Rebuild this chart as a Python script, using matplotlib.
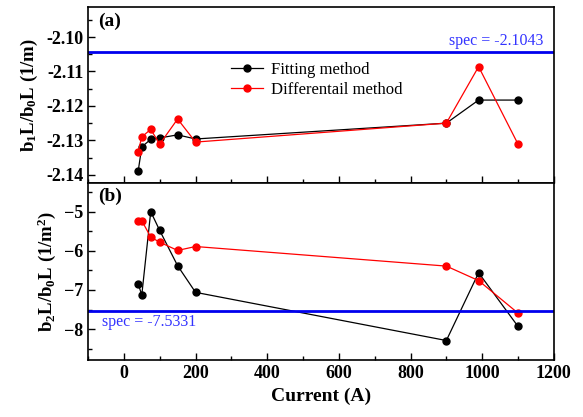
import numpy as np
import matplotlib
matplotlib.use("Agg")
import matplotlib.pyplot as plt
from matplotlib.ticker import MultipleLocator, FormatStrFormatter

plt.rcParams['font.family'] = ['Liberation Serif', 'DejaVu Serif']
plt.rcParams['font.weight'] = 'bold'
plt.rcParams['mathtext.fontset'] = 'custom'
plt.rcParams['mathtext.rm'] = 'Liberation Serif:bold'
plt.rcParams['mathtext.default'] = 'rm'

# data
current = [40, 50, 75, 100, 150, 200, 900, 990, 1100]
b1_fit = [-2.1389, -2.1319, -2.1297, -2.1293, -2.1284, -2.1296, -2.1250, -2.1183, -2.1183]
b1_diff = [-2.1333, -2.1290, -2.1268, -2.1311, -2.1238, -2.1305, -2.1250, -2.1086, -2.1311]
b2_fit = [-6.84, -7.13, -5.00, -5.48, -6.38, -7.06, -8.29, -6.56, -7.93]
b2_diff = [-5.25, -5.23, -5.65, -5.78, -5.99, -5.89, -6.39, -6.76, -7.59]
spec_b1 = -2.1043
spec_b2 = -7.5331

fig = plt.figure(figsize=(5.83, 4.17), dpi=100)
ax1 = fig.add_axes([0.151, 0.561, 0.799, 0.422])
ax2 = fig.add_axes([0.151, 0.1355, 0.799, 0.4255], sharex=ax1)

for ax in (ax1, ax2):
    for s in ax.spines.values():
        s.set_linewidth(1.2)
    ax.tick_params(direction='in', which='both', top=False, right=False,
                   labelsize=13)
    ax.tick_params(which='major', length=5, width=1)
    ax.tick_params(which='minor', length=3, width=1)

ax1.plot(current, b1_fit, '-o', color='black', lw=0.9, ms=5, label='Fitting method')
ax1.plot(current, b1_diff, '-o', color='red', lw=0.9, ms=5, label='Differentail method')
ax1.axhline(spec_b1, color='#0000ee', lw=2)
ax1.text(1170, spec_b1 + 0.0007, 'spec = -2.1043', color='#3333ff', fontsize=11.5,
         fontweight='normal', ha='right', va='bottom')
ax1.text(-72, -2.0955, '(a)', fontsize=14, fontweight='bold', va='center')
ax1.set_ylim(-2.1424, -2.0913)
ax1.yaxis.set_major_locator(MultipleLocator(0.01))
ax1.yaxis.set_minor_locator(MultipleLocator(0.005))
ax1.yaxis.set_major_formatter(FormatStrFormatter('%.2f'))
ax1.tick_params(labelbottom=False)
ax1.set_ylabel('b$_1$L/b$_0$L (1/m)', fontsize=13.5, fontweight='bold')
leg = ax1.legend(loc='upper left', bbox_to_anchor=(0.275, 0.775), frameon=False,
                 prop={'weight': 'normal', 'size': 12}, handlelength=1.9,
                 handletextpad=0.5, labelspacing=0.25)

ax2.plot(current, b2_fit, '-o', color='black', lw=0.9, ms=5)
ax2.plot(current, b2_diff, '-o', color='red', lw=0.9, ms=5)
ax2.axhline(spec_b2, color='#0000ee', lw=2)
ax2.text(-60, spec_b2 - 0.08, 'spec = -7.5331', color='#3333ff', fontsize=11.5,
         fontweight='normal', ha='left', va='top')
ax2.text(-72, -4.6, '(b)', fontsize=14, fontweight='bold', va='center')
ax2.set_ylim(-8.8, -4.27)
ax2.yaxis.set_major_locator(MultipleLocator(1))
ax2.yaxis.set_minor_locator(MultipleLocator(0.5))
ax2.set_xlim(-100, 1200)
ax2.xaxis.set_major_locator(MultipleLocator(200))
ax2.xaxis.set_minor_locator(MultipleLocator(100))
ax2.set_xlabel('Current (A)', fontsize=14, fontweight='bold')
ax2.set_ylabel('b$_2$L/b$_0$L (1/m$^2$)', fontsize=13.5, fontweight='bold')

for ax in (ax1, ax2):
    for lab in ax.get_xticklabels() + ax.get_yticklabels():
        lab.set_fontweight('bold')

fig.align_ylabels([ax1, ax2])
fig.savefig('out.png', dpi=100)
